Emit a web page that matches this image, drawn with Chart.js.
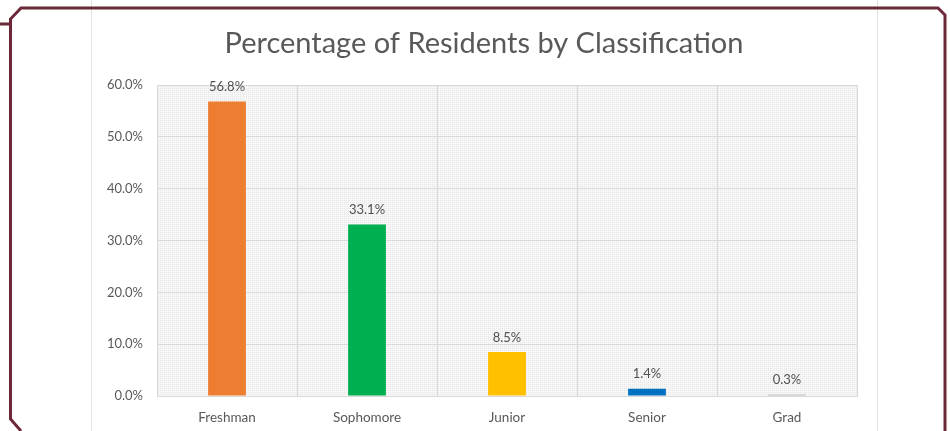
<!DOCTYPE html>
<html>
<head>
<meta charset="utf-8">
<script src="https://cdn.jsdelivr.net/npm/chart.js@4.4.1/dist/chart.umd.min.js"></script>
<style>
    html, body { margin: 0; padding: 0; background: #fff; }
    #wrap { position: relative; width: 950px; height: 431px; }
</style>
</head>
<body>
<div id="wrap"><canvas id="residentsChart" width="950" height="431"></canvas></div>
<script>
const categorias = ['Freshman', 'Sophomore', 'Junior', 'Senior', 'Grad'];
const percentuais = [56.8, 33.1, 8.5, 1.4, 0.3];
const cores = ['#ED7D31', '#00B050', '#FFC000', '#0070C0', '#BFBFBF'];
const ticksY = [0, 10, 20, 30, 40, 50, 60];
const titulo = 'Percentage of Residents by Classification';

const fonte = 'Lato, "Open Sans", sans-serif';

// fundo pontilhado da area do grafico
function criarHachura(ctx) {
    const c = document.createElement('canvas');
    c.width = 4;
    c.height = 4;
    const p = c.getContext('2d');
    p.fillStyle = '#f7f7f7';
    p.fillRect(0, 0, 4, 4);
    p.fillStyle = '#e6e6e6';
    p.fillRect(0, 0, 1, 1);
    p.fillRect(2, 2, 1, 1);
    p.fillRect(2, 0, 1, 1);
    p.fillRect(0, 2, 1, 1);
    return ctx.createPattern(c, 'repeat');
}

const molduraPlugin = {
    id: 'moldura',
    beforeDraw(chart) {
        const ctx = chart.ctx;
        const a = chart.chartArea;
        ctx.save();
        // bordas do painel
        ctx.strokeStyle = '#e3e3e3';
        ctx.lineWidth = 1;
        ctx.beginPath();
        ctx.moveTo(91.5, 0);
        ctx.lineTo(91.5, 431);
        ctx.moveTo(877.5, 0);
        ctx.lineTo(877.5, 431);
        ctx.stroke();
        // pontilhado
        ctx.fillStyle = criarHachura(ctx);
        ctx.fillRect(a.left, a.top, a.right - a.left, a.bottom - a.top);
        ctx.restore();
    },
    afterDraw(chart) {
        const ctx = chart.ctx;
        ctx.save();
        // titulo
        ctx.font = '29px ' + fonte;
        ctx.fillStyle = '#595959';
        ctx.textAlign = 'center';
        ctx.textBaseline = 'middle';
        ctx.fillText(titulo, 484, 44);
        // moldura
        ctx.strokeStyle = '#6d2837';
        ctx.lineWidth = 3;
        ctx.lineJoin = 'miter';
        ctx.beginPath();
        ctx.moveTo(0, 24);
        ctx.lineTo(11, 24);
        ctx.moveTo(21, 431);
        ctx.lineTo(10.5, 419);
        ctx.lineTo(10.5, 19);
        ctx.lineTo(21, 8);
        ctx.lineTo(938, 8);
        ctx.lineTo(945, 15);
        ctx.lineTo(945, 431);
        ctx.stroke();
        ctx.restore();
    }
};

const rotulosPlugin = {
    id: 'rotulos',
    afterDatasetsDraw(chart) {
        const ctx = chart.ctx;
        const meta = chart.getDatasetMeta(0);
        ctx.save();
        ctx.font = '13px ' + fonte;
        ctx.fillStyle = '#505050';
        ctx.textAlign = 'center';
        ctx.textBaseline = 'bottom';
        meta.data.forEach((bar, i) => {
            ctx.fillText(percentuais[i].toFixed(1) + '%', bar.x, bar.y - 8);
        });
        ctx.restore();
    }
};

document.addEventListener('DOMContentLoaded', function() {
    const ctx = document.getElementById('residentsChart').getContext('2d');
    new Chart(ctx, {
        type: 'bar',
        data: {
            labels: categorias,
            datasets: [{
                data: percentuais,
                backgroundColor: cores,
                barPercentage: 0.54,
                categoryPercentage: 0.5
            }]
        },
        options: {
            responsive: false,
            animation: false,
            layout: { padding: { left: 91, right: 93, top: 85, bottom: 4 } },
            plugins: {
                legend: { display: false },
                tooltip: { enabled: false },
                title: { display: false }
            },
            scales: {
                x: {
                    grid: { color: '#d9d9d9', offset: true, drawTicks: false },
                    border: { color: '#d9d9d9' },
                    ticks: {
                        color: '#595959',
                        font: { family: fonte, size: 13.5 },
                        padding: 14
                    },
                    afterFit(scale) { scale.height = 31; }
                },
                y: {
                    min: 0,
                    max: 60,
                    afterBuildTicks(scale) {
                        scale.ticks = ticksY.map(v => ({ value: v }));
                    },
                    grid: { color: '#d9d9d9', drawTicks: false },
                    border: { display: false },
                    ticks: {
                        color: '#595959',
                        font: { family: fonte, size: 13 },
                        padding: 14,
                        callback: v => v.toFixed(1) + '%'
                    },
                    afterFit(scale) { scale.width = 66; }
                }
            }
        },
        plugins: [molduraPlugin, rotulosPlugin]
    });
});
</script>
</body>
</html>
